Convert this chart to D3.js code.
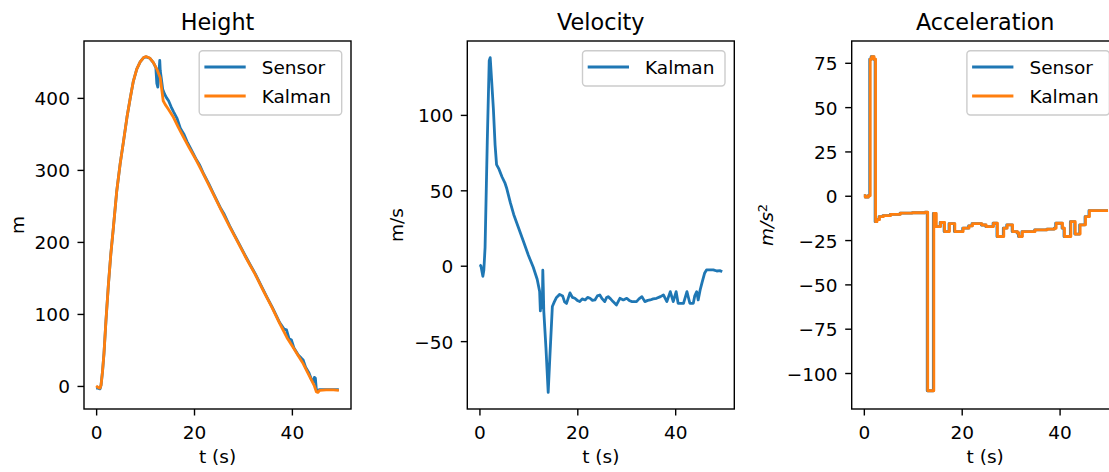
<!DOCTYPE html>
<html>
<head>
<meta charset="utf-8">
<script src="https://cdn.jsdelivr.net/npm/d3@7/dist/d3.min.js"></script>
<style>
  html, body { margin: 0; padding: 0; background: #fff; }
  svg { display: block; }
  text { font-family: "DejaVu Sans", sans-serif; fill: #000; }
</style>
</head>
<body>
<svg id="chart" width="1109" height="472"></svg>
<script>
// ---------- DATA ----------
const titles = ["Height", "Velocity", "Acceleration"];
const xTicks = [0, 20, 40];
const heightTicks = [0, 100, 200, 300, 400];
const velocityTicks = [-50, 0, 50, 100];
const accelTicks = [-100, -75, -50, -25, 0, 25, 50, 75];
const legendHeight = ["Sensor", "Kalman"];
const legendVelocity = ["Kalman"];
const legendAccel = ["Sensor", "Kalman"];

// Height (m)
const heightSensorT = [0,0.4,0.8,1.0,1.3,1.6,2.0,2.5,3.0,3.5,4.2,4.9,5.6,6.3,7.0,7.6,8.3,9.0,9.7,10.2,11.0,11.7,12.2,12.4,12.6,12.8,13.0,13.1,13.3,13.6,14.0,14.4,14.8,15.3,15.8,16.5,17.2,17.9,18.6,19.3,20.5,21.2,22.0,23.0,23.9,25.5,26.2,27.3,29.0,30.7,31.5,32.5,34.1,35.0,36.0,37.5,38.4,38.9,39.4,39.9,40.4,41.3,42.0,42.3,42.8,43.5,44.0,44.4,44.6,44.8,45.0,45.3,45.7,47.0,48.5,49.6];
const heightSensor = [-3,-3,-4,1,20,45,90,140,183,218,270,308,340,373,401,423,440,450,456,457,455,449,442,420,415,432,452,438,428,412,405,400,396,388,381,372,358,350,339,330,314,306,294,281,268,246,238,222,200,178,168,156,134,122,109,88,79,78,66,64,53,43,38,36,26,18,9,6,12,11,-5,-6,-5,-5,-5,-5];
const heightKalmanT = [0,0.4,0.8,1.0,1.3,1.6,2.0,2.5,3.0,3.5,4.2,4.9,5.6,6.3,7.0,7.6,8.3,9.0,9.7,10.2,11.0,11.7,12.4,13.1,13.4,13.7,14.1,14.8,15.8,16.8,17.9,19.0,20.5,22.0,23.9,25.5,27.3,29.0,30.7,32.5,34.1,36.0,37.5,39.0,40.2,41.3,42.3,43.2,44.0,44.6,45.0,45.3,45.7,47.0,48.5,49.6];
const heightKalman = [0,-2,-3,1,20,45,90,140,183,218,270,308,340,373,401,423,440,450,456,457.4,455,449,440,428,412,396,391,384,373,359,345,331,313,293,267,245,221,199,177,155,133,108,87,67,54,42,31,19,8,0,-8,-9,-6,-5.5,-5.5,-6];

// Velocity (m/s), Kalman estimate
const velocityT = [0,0.3,0.7,0.9,1.15,1.6,2.0,2.2,2.45,2.85,3.2,3.5,4.0,4.6,5.2,5.6,6.3,7.0,8.0,9.0,10.0,11.0,11.8,12.3,12.45,12.6,12.85,12.95,13.05,13.15,13.6,14.05,14.4,14.9,15.3,15.75,16.4,17.0,17.4,17.8,18.2,18.5,19.0,19.5,20.0,20.5,21.0,21.6,22.1,22.6,23.1,23.6,24.1,24.6,25.1,25.6,26.0,26.3,26.8,27.3,28.0,28.7,29.4,30.1,30.6,31.1,32.1,32.6,33.2,33.8,34.4,34.9,35.5,36.2,37.0,37.6,38.3,39.0,39.6,40.2,40.6,41.2,41.7,42.4,43.0,43.7,44.0,44.4,44.7,45.1,45.5,46.0,46.4,47.1,47.8,48.5,49.2,49.6];
const velocityKalman = [0.5,0,-7,-3,12,82,136,138,125,104,80,67,64,59,55,51,42,34,25,16,7,-1,-9,-17,-30,-20,-28,-3,-15,-30,-55,-84,-60,-27,-24,-21,-19,-20,-24,-25,-21,-18,-21,-21.6,-23,-23.8,-22,-22.7,-21,-21.6,-23,-22.7,-20,-19.4,-22,-23.8,-21,-20.5,-22,-23.8,-26,-21.6,-22.7,-21.6,-23,-23.8,-23.8,-22,-20.5,-23.8,-23,-22.7,-22,-21.6,-20.5,-19.4,-23.8,-17.2,-23.8,-17.2,-24.9,-25,-24.9,-17.2,-24.9,-24.9,-20,-17.2,-22.7,-16.1,-11,-5,-2.8,-2.8,-2.8,-3.5,-3.3,-4];

// Acceleration (m/s^2), step-wise samples
const accelSensorT = [0,0.3,0.9,1.2,1.5,2.0,2.3,2.6,3.1,3.9,5.4,7.4,9.9,12.5,12.95,14.2,14.7,15.6,16.4,17.4,18.5,20.2,21.4,22.1,24.0,24.9,26.4,27.2,28.5,29.2,30.3,31.3,31.6,32.3,34.9,37.4,38.9,39.2,40.5,40.9,42.2,43.1,44.1,45.2,46.0,49.9];
const accelSensor = [0,-0.8,0,77,78.5,77,-14.6,-13.5,-11.8,-11.2,-10.5,-9.8,-9.6,-9.2,-110,-10,-17.4,-15.1,-20.2,-15.7,-20.2,-18.3,-17,-15.7,-16.5,-17.4,-15.5,-23,-18.3,-16.4,-20.2,-21,-23,-20.2,-19.2,-18.8,-18.3,-15.5,-18.3,-23,-14.6,-21.6,-16.4,-11.8,-8.4,-8.4];
const accelKalmanT = [0,0.3,0.9,1.3,1.6,2.1,2.4,2.7,3.2,4.0,5.5,7.5,10.0,12.6,13.05,14.3,14.8,15.7,16.5,17.5,18.6,20.3,21.5,22.2,24.1,25.0,26.5,27.3,28.6,29.3,30.4,31.4,31.7,32.4,35.0,37.5,39.0,39.3,40.6,41.0,42.3,43.2,44.2,45.3,46.1,49.9];
const accelKalman = [0,-0.8,0,77,78.5,77,-14.6,-13.5,-11.8,-11.2,-10.5,-9.8,-9.6,-9.2,-110,-10,-17.4,-15.1,-20.2,-15.7,-20.2,-18.3,-17,-15.7,-16.5,-17.4,-15.5,-23,-18.3,-16.4,-20.2,-21,-23,-20.2,-19.2,-18.8,-18.3,-15.5,-18.3,-23,-14.6,-21.6,-16.4,-11.8,-8.4,-8.4];

// ---------- DRAW ----------
const BLUE = "#1f77b4", ORANGE = "#ff7f0e";
const FS = 18.5, TFS = 22.3, LW = 2.8;
const svg = d3.select("#chart");
svg.append("rect").attr("width", 1109).attr("height", 472).attr("fill", "#fff");

const panelW = 267, plotTop = 41, plotBottom = 409;
const xDomain = [-2.48, 52.08];

const panels = [
  { left: 84, title: titles[0], yDomain: [-32, 479], yTicks: heightTicks,
    ylabel: "m", ylabelX: 23.5,
    series: [
      { t: heightSensorT, v: heightSensor, color: BLUE, curve: d3.curveLinear },
      { t: heightKalmanT, v: heightKalman, color: ORANGE, curve: d3.curveLinear }
    ],
    legend: [{ label: legendHeight[0], color: BLUE }, { label: legendHeight[1], color: ORANGE }] },
  { left: 467.3, title: titles[1], yDomain: [-95, 149], yTicks: velocityTicks,
    ylabel: "m/s", ylabelX: 402.5,
    series: [
      { t: velocityT, v: velocityKalman, color: BLUE, curve: d3.curveLinear }
    ],
    legend: [{ label: legendVelocity[0], color: BLUE }] },
  { left: 851.7, title: titles[2], yDomain: [-120.3, 87.3], yTicks: accelTicks,
    ylabel: "math", ylabelX: 772.5,
    series: [
      { t: accelSensorT, v: accelSensor, color: BLUE, curve: d3.curveStepAfter },
      { t: accelKalmanT, v: accelKalman, color: ORANGE, curve: d3.curveStepAfter }
    ],
    legend: [{ label: legendAccel[0], color: BLUE }, { label: legendAccel[1], color: ORANGE }] }
];

panels.forEach(p => {
  const x = d3.scaleLinear().domain(xDomain).range([p.left, p.left + panelW]);
  const y = d3.scaleLinear().domain(p.yDomain).range([plotBottom, plotTop]);
  const g = svg.append("g");

  // lines
  p.series.forEach(s => {
    const pts = s.t.map((t, i) => [t, s.v[i]]);
    const line = d3.line().x(d => x(d[0])).y(d => y(d[1])).curve(s.curve);
    g.append("path").datum(pts)
      .attr("d", line)
      .attr("fill", "none")
      .attr("stroke", s.color)
      .attr("stroke-width", LW)
      .attr("stroke-linejoin", "round")
      .attr("stroke-linecap", "butt");
  });

  // frame
  g.append("rect")
    .attr("x", p.left).attr("y", plotTop)
    .attr("width", panelW).attr("height", plotBottom - plotTop)
    .attr("fill", "none").attr("stroke", "#000").attr("stroke-width", 1.4);

  // x axis
  const xa = g.append("g").attr("transform", `translate(0,${plotBottom})`)
    .call(d3.axisBottom(x).tickValues(xTicks).tickSize(6.5).tickPadding(6.5).tickFormat(d3.format("d")));
  xa.select(".domain").remove();
  xa.selectAll(".tick line").attr("stroke", "#000").attr("stroke-width", 1.4);
  xa.selectAll(".tick text").attr("y", 30.4).attr("dy", null)
    .attr("font-size", FS).attr("font-family", "DejaVu Sans").attr("fill", "#000");

  // y axis
  const ya = g.append("g").attr("transform", `translate(${p.left},0)`)
    .call(d3.axisLeft(y).tickValues(p.yTicks).tickSize(6.5).tickPadding(7.6));
  ya.select(".domain").remove();
  ya.selectAll(".tick line").attr("stroke", "#000").attr("stroke-width", 1.4);
  ya.selectAll(".tick text").attr("dy", "0.38em")
    .attr("font-size", FS).attr("font-family", "DejaVu Sans").attr("fill", "#000");

  // title
  g.append("text")
    .attr("x", p.left + panelW / 2).attr("y", 29.5)
    .attr("text-anchor", "middle").attr("font-size", TFS)
    .text(p.title);

  // x label
  g.append("text")
    .attr("x", p.left + panelW / 2).attr("y", 463)
    .attr("text-anchor", "middle").attr("font-size", FS)
    .text("t (s)");

  // y label
  const yl = g.append("text")
    .attr("transform", `translate(${p.ylabelX},${(plotTop + plotBottom) / 2}) rotate(-90)`)
    .attr("text-anchor", "middle").attr("font-size", FS);
  if (p.ylabel === "math") {
    yl.append("tspan").attr("font-style", "italic").text("m/s");
    yl.append("tspan").attr("dy", "-0.45em").attr("font-size", FS * 0.7).text("2");
  } else {
    yl.text(p.ylabel);
  }

  // legend
  const lw = 142.5, rowH = 29, lh = 6.3 + rowH * p.legend.length;
  const lx = p.left + panelW - 9.3 - lw, ly = plotTop + 9.7;
  const lg = g.append("g");
  lg.append("rect").attr("x", lx).attr("y", ly).attr("width", lw).attr("height", lh)
    .attr("rx", 3.5).attr("fill", "#fff").attr("fill-opacity", 0.8)
    .attr("stroke", "#cccccc").attr("stroke-width", 1.4);
  p.legend.forEach((e, i) => {
    const cy = ly + 16.3 + i * rowH;
    lg.append("line").attr("x1", lx + 5.2).attr("x2", lx + 46.5)
      .attr("y1", cy).attr("y2", cy)
      .attr("stroke", e.color).attr("stroke-width", LW);
    lg.append("text").attr("x", lx + 62.5).attr("y", cy + 7)
      .attr("font-size", FS).text(e.label);
  });
});
</script>
</body>
</html>
